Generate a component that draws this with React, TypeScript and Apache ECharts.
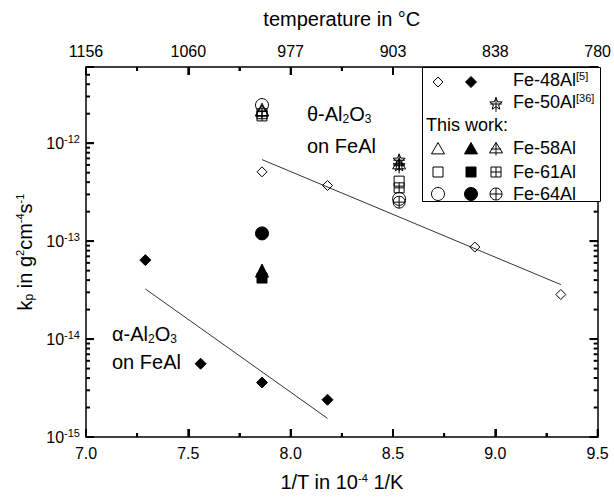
import React, { useEffect, useRef } from 'react';
import * as echarts from 'echarts';

const FONT = '"Liberation Sans", Arial, sans-serif';

// axis ticks
const xTickValues = [7.0, 7.5, 8.0, 8.5, 9.0, 9.5];
const tempTickLabels = ['1156', '1060', '977', '903', '838', '780'];
const yDecadeExponents = [-15, -14, -13, -12];
const yMinorFactors = [2, 3, 4, 5, 6, 7, 8, 9];
const Y_MIN = 1e-15;
const Y_MAX = 6e-12;

// data: [1/T in 1e-4 1/K, kp]
const fe48Theta = [[7.86, 5.1e-13], [8.18, 3.7e-13], [8.9, 8.7e-14], [9.32, 2.85e-14]];
const fe48Alpha = [[7.29, 6.4e-14], [7.56, 5.6e-15], [7.86, 3.6e-15], [8.18, 2.4e-15]];
const thetaFit = [[7.86, 6.8e-13], [9.32, 3.6e-14]];
const alphaFit = [[7.29, 3.25e-14], [8.18, 1.55e-15]];
const fe50 = [[8.53, 6.6e-13], [8.53, 5.8e-13]];
const fe58Open = [[7.86, 2.2e-12]];
const fe58Filled = [[7.86, 5.0e-14]];
const fe58Cross = [[7.86, 2.1e-12], [8.53, 6.0e-13]];
const fe61Open = [[7.86, 2.0e-12], [8.53, 4.1e-13]];
const fe61Filled = [[7.86, 4.2e-14]];
const fe61Cross = [[7.86, 1.9e-12], [8.53, 3.5e-13]];
const fe64Open = [[7.86, 2.45e-12], [8.53, 2.7e-13]];
const fe64Filled = [[7.86, 1.2e-13]];
const fe64Cross = [[8.53, 2.5e-13]];

function starPoints(cx: number, cy: number, ro: number, ri: number) {
  const pts: number[][] = [];
  for (let k = 0; k < 10; k++) {
    const a = (-90 + k * 36) * Math.PI / 180;
    const r = k % 2 === 0 ? ro : ri;
    pts.push([cx + r * Math.cos(a), cy + r * Math.sin(a)]);
  }
  return pts;
}

const starPathPts = starPoints(10, 10, 10, 4.2);
const STAR_CROSS =
  'path://M' + starPathPts.map((p) => p[0].toFixed(2) + ',' + p[1].toFixed(2)).join(' L') +
  ' Z M10,0 L10,22 M1,10 L19,10';
const TRI_CROSS = 'path://M10,0 L20,16 L0,16 Z M10,0 L10,20 M2,10 L18,10';
const SQ_CROSS = 'path://M0,0 L16,0 L16,16 L0,16 Z M8,0 L8,16 M0,8 L16,8';
const CIR_CROSS = 'path://M0,8 A8,8 0 1,0 16,8 A8,8 0 1,0 0,8 Z M8,0 L8,16 M0,8 L16,8';

function mkRich() {
  return {
    sup: { fontSize: 11, padding: [0, 0, 9, 0], fontFamily: FONT, color: '#000' },
    sub: { fontSize: 12, padding: [9, 0, 0, 0], fontFamily: FONT, color: '#000' },
  };
}

function ln(x1: number, y1: number, x2: number, y2: number, w = 1) {
  return { type: 'line', z: 100, shape: { x1, y1, x2, y2 }, style: { stroke: '#000', lineWidth: w } };
}

function tickRect(x: number, y: number, w: number, h: number) {
  return { type: 'rect', z: 95, shape: { x, y, width: w, height: h }, style: { fill: '#000' } };
}

function symbolEls(kind: string, cx: number, cy: number, s: number, filled: boolean) {
  const st = { fill: filled ? '#000' : 'transparent', stroke: '#000', lineWidth: 1 };
  const h = s / 2;
  switch (kind) {
    case 'diamond':
      return [{ type: 'polygon', shape: { points: [[cx, cy - h], [cx + h, cy], [cx, cy + h], [cx - h, cy]] }, style: st }];
    case 'triangle':
      return [{ type: 'polygon', shape: { points: [[cx, cy - h], [cx + h, cy + h * 0.75], [cx - h, cy + h * 0.75]] }, style: st }];
    case 'triCross':
      return [
        { type: 'polygon', shape: { points: [[cx, cy - h], [cx + h, cy + h * 0.6], [cx - h, cy + h * 0.6]] }, style: st },
        ln(cx, cy - h, cx, cy + h),
        ln(cx - h * 0.8, cy, cx + h * 0.8, cy),
      ];
    case 'square':
      return [{ type: 'rect', shape: { x: cx - h, y: cy - h, width: s, height: s }, style: st }];
    case 'sqCross':
      return [
        { type: 'rect', shape: { x: cx - h, y: cy - h, width: s, height: s }, style: st },
        ln(cx, cy - h, cx, cy + h), ln(cx - h, cy, cx + h, cy),
      ];
    case 'circle':
      return [{ type: 'circle', shape: { cx, cy, r: h }, style: st }];
    case 'cirCross':
      return [
        { type: 'circle', shape: { cx, cy, r: h }, style: st },
        ln(cx, cy - h, cx, cy + h), ln(cx - h, cy, cx + h, cy),
      ];
    case 'starCross':
      return [
        { type: 'polygon', shape: { points: starPoints(cx, cy, h, h * 0.42) }, style: st },
        ln(cx, cy - h, cx, cy + h * 1.2), ln(cx - h * 0.9, cy, cx + h * 0.9, cy),
      ];
  }
  return [];
}

function txt(x: number, y: number, text: string, fontSize: number) {
  return {
    type: 'text', x, y, z: 100,
    style: { text, fontSize, fontFamily: FONT, fill: '#000', verticalAlign: 'middle', align: 'left', rich: mkRich() },
  };
}

function buildLegend() {
  const c1 = 438, c2 = 471, c3 = 496, tx = 513;
  const els: any[] = [
    { type: 'rect', z: 96, shape: { x: 422.5, y: 67.5, width: 178, height: 134 }, style: { fill: '#fff', stroke: '#000', lineWidth: 1 } },
  ];
  const add = (arr: any[]) => arr.forEach((e) => els.push({ ...e, z: 100 }));
  add(symbolEls('diamond', c1, 82, 10, false));
  add(symbolEls('diamond', c2, 82, 11, true));
  els.push(txt(tx, 80, 'Fe-48Al{sup|[5]}', 18));
  add(symbolEls('starCross', c3, 104, 13, false));
  els.push(txt(tx, 102, 'Fe-50Al{sup|[36]}', 18));
  els.push(txt(426, 125, 'This work:', 18));
  add(symbolEls('triangle', c1, 149, 13, false));
  add(symbolEls('triangle', c2, 149, 13, true));
  add(symbolEls('triCross', c3, 149, 13, false));
  els.push(txt(tx, 148, 'Fe-58Al', 18));
  add(symbolEls('square', c1, 172, 10, false));
  add(symbolEls('square', c2, 172, 10, true));
  add(symbolEls('sqCross', c3, 172, 10, false));
  els.push(txt(tx, 172, 'Fe-61Al', 18));
  add(symbolEls('circle', c1, 194, 13, false));
  add(symbolEls('circle', c2, 194, 13, true));
  add(symbolEls('cirCross', c3, 194, 12, false));
  els.push(txt(tx, 194, 'Fe-64Al', 18));
  return els;
}

function isDecade(v: number) {
  const l = Math.log10(v);
  return Math.abs(l - Math.round(l)) < 1e-6;
}

function mkAxisLine() {
  return { show: true, onZero: false, lineStyle: { color: '#000', width: 1.5 } };
}
function mkTick() {
  return { show: true, inside: true, length: 8, lineStyle: { color: '#000', width: 2 } };
}
function mkMinor() {
  return { show: true, splitNumber: 2, length: 4, lineStyle: { color: '#000', width: 2 } };
}

const MAJOR = 8;
const MINOR = 4;
const TW = 2;

export default function App() {
  const ref = useRef<HTMLDivElement>(null);
  useEffect(() => {
    if (!ref.current) return;
    const chart = echarts.init(ref.current, null, { renderer: 'svg' });
    const xMin = xTickValues[0];
    const xMax = xTickValues[xTickValues.length - 1];
    const open = { color: 'transparent', borderColor: '#000', borderWidth: 1, opacity: 1 };
    const filled = { color: '#000', borderColor: '#000', borderWidth: 1, opacity: 1 };
    const sc = (name: string, data: number[][], symbol: string, size: number, style: any) => ({
      name, type: 'scatter', data, symbol, symbolSize: size, symbolKeepAspect: true, itemStyle: { ...style }, z: 3,
    });
    const option: any = {
      animation: false,
      textStyle: { fontFamily: FONT },
      grid: { left: 86, right: 13, top: 67, bottom: 55 },
      xAxis: [
        {
          type: 'value', min: xMin, max: xMax, interval: 0.5, position: 'bottom',
          axisLine: mkAxisLine(), axisTick: mkTick(), minorTick: mkMinor(), splitLine: { show: false },
          axisLabel: { fontSize: 16, color: '#000', margin: 8, fontFamily: FONT, formatter: (v: number) => v.toFixed(1) },
          name: '1/T in 10{sup|-4} 1/K', nameLocation: 'middle', nameGap: 35,
          nameTextStyle: { fontSize: 20, color: '#000', fontFamily: FONT, rich: mkRich() },
        },
        {
          type: 'value', min: xMin, max: xMax, interval: 0.5, position: 'top',
          axisLine: mkAxisLine(), axisTick: mkTick(), minorTick: mkMinor(), splitLine: { show: false },
          axisLabel: {
            fontSize: 16, color: '#000', margin: 8, fontFamily: FONT,
            formatter: (v: number) => {
              const i = xTickValues.findIndex((t) => Math.abs(t - v) < 1e-6);
              return i >= 0 ? tempTickLabels[i] : '';
            },
          },
          name: 'temperature in °C', nameLocation: 'middle', nameGap: 38,
          nameTextStyle: { fontSize: 20, color: '#000', fontFamily: FONT },
        },
      ],
      yAxis: [
        {
          type: 'log', logBase: 10, min: Y_MIN, max: Y_MAX, position: 'left',
          axisLine: mkAxisLine(), axisTick: mkTick(), splitLine: { show: false },
          axisLabel: {
            fontSize: 16, color: '#000', margin: 6, fontFamily: FONT,
            formatter: (v: number) => (isDecade(v) ? '10{sup|' + Math.round(Math.log10(v)) + '}' : ''),
            rich: mkRich(),
          },
          name: 'k{sub|p} in g{sup|2}cm{sup|-4}s{sup|-1}', nameLocation: 'middle', nameGap: 44, nameRotate: 90,
          nameTextStyle: { fontSize: 20, color: '#000', fontFamily: FONT, rich: mkRich() },
        },
        {
          type: 'log', logBase: 10, min: Y_MIN, max: Y_MAX, position: 'right',
          axisLine: mkAxisLine(), axisTick: mkTick(), splitLine: { show: false },
          axisLabel: { show: false },
        },
      ],
      series: [
        { type: 'line', data: thetaFit, showSymbol: false, symbol: 'none', lineStyle: { color: '#333', width: 1 }, z: 2 },
        { type: 'line', data: alphaFit, showSymbol: false, symbol: 'none', lineStyle: { color: '#333', width: 1 }, z: 2 },
        sc('Fe-48Al open', fe48Theta, 'diamond', 10, open),
        sc('Fe-48Al filled', fe48Alpha, 'diamond', 11, filled),
        sc('Fe-50Al', fe50, STAR_CROSS, 14, open),
        sc('Fe-58Al open', fe58Open, 'triangle', 13, open),
        sc('Fe-58Al filled', fe58Filled, 'triangle', 13, filled),
        sc('Fe-58Al cross', fe58Cross, TRI_CROSS, 13, open),
        sc('Fe-61Al open', fe61Open, 'rect', 10, open),
        sc('Fe-61Al filled', fe61Filled, 'rect', 10, filled),
        sc('Fe-61Al cross', fe61Cross, SQ_CROSS, 10, open),
        sc('Fe-64Al open', fe64Open, 'circle', 13, open),
        sc('Fe-64Al filled', fe64Filled, 'circle', 13, filled),
        sc('Fe-64Al cross', fe64Cross, CIR_CROSS, 12, open),
      ],
    };
    chart.setOption(option);

    // log-axis minor ticks (2..9 per decade) placed through the chart's own scales
    const toPx = (x: number, y: number) => chart.convertToPixel({ xAxisIndex: 0, yAxisIndex: 0 }, [x, y]) as number[];
    const tickEls: any[] = [];
    xTickValues.forEach((v, i) => {
      const vals: number[][] = [[v, MAJOR]];
      if (i < xTickValues.length - 1) vals.push([(v + xTickValues[i + 1]) / 2, MINOR]);
      vals.forEach(([x, len]) => {
        const b = toPx(x, Y_MIN);
        const t = toPx(x, Y_MAX);
        if (b && t && isFinite(b[0]) && isFinite(t[1])) {
          tickEls.push(tickRect(b[0] - TW / 2, b[1] - len, TW, len));
          tickEls.push(tickRect(t[0] - TW / 2, t[1], TW, len));
        }
      });
    });
    yDecadeExponents.forEach((e) => {
      const vals: number[][] = [[Math.pow(10, e), MAJOR]];
      yMinorFactors.forEach((f) => {
        const v = f * Math.pow(10, e);
        if (v < Y_MAX) vals.push([v, MINOR]);
      });
      vals.forEach(([v, len]) => {
        const l = toPx(xMin, v);
        const r = toPx(xMax, v);
        if (l && r && isFinite(l[1]) && isFinite(r[0])) {
          tickEls.push(tickRect(l[0], l[1] - TW / 2, len, TW));
          tickEls.push(tickRect(r[0] - len, r[1] - TW / 2, len, TW));
        }
      });
    });

    chart.setOption({
      graphic: [
        ...tickEls,
        txt(307, 114, 'θ-Al{sub|2}O{sub|3}', 20),
        txt(307, 146, 'on FeAl', 20),
        txt(112, 334, 'α-Al{sub|2}O{sub|3}', 20),
        txt(112, 362, 'on FeAl', 20),
        ...buildLegend(),
      ],
    });
    return () => chart.dispose();
  }, []);
  return <div ref={ref} style={{ width: 614, height: 497, position: 'absolute', left: 0, top: 0 }} />;
}
